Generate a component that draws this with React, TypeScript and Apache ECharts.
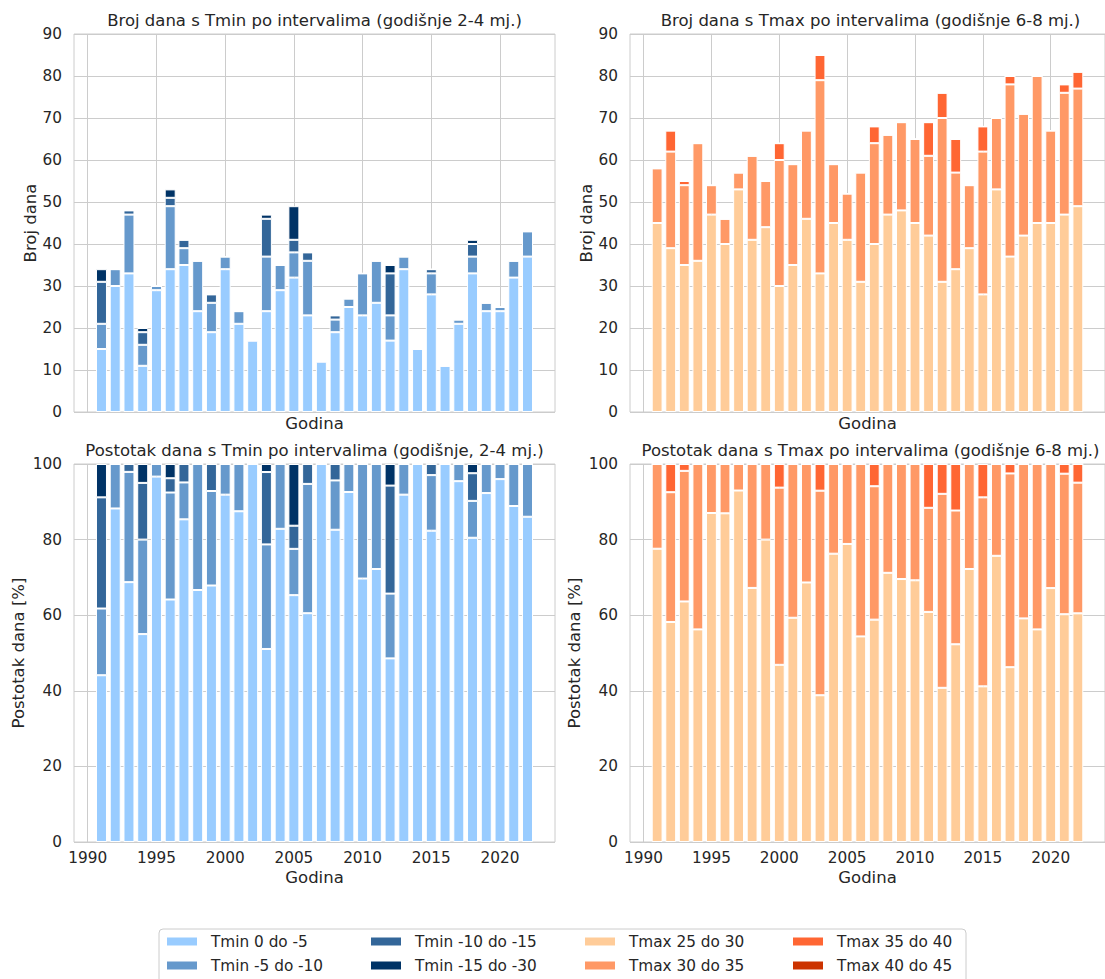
import React, { useEffect, useRef } from 'react';
import * as echarts from 'echarts';

// ---------- data ----------
const years = [
  1991, 1992, 1993, 1994, 1995, 1996, 1997, 1998, 1999, 2000, 2001, 2002, 2003, 2004, 2005, 2006,
  2007, 2008, 2009, 2010, 2011, 2012, 2013, 2014, 2015, 2016, 2017, 2018, 2019, 2020, 2021, 2022,
];
// category slots of the x axis (matplotlib margins: 1989 .. 2024)
const axisYears = [
  '1989', '1990', '1991', '1992', '1993', '1994', '1995', '1996', '1997', '1998', '1999', '2000',
  '2001', '2002', '2003', '2004', '2005', '2006', '2007', '2008', '2009', '2010', '2011', '2012',
  '2013', '2014', '2015', '2016', '2017', '2018', '2019', '2020', '2021', '2022', '2023', '2024',
];

const tminNames = ['Tmin 0 do -5', 'Tmin -5 do -10', 'Tmin -10 do -15', 'Tmin -15 do -30'];
const tmaxNames = ['Tmax 25 do 30', 'Tmax 30 do 35', 'Tmax 35 do 40', 'Tmax 40 do 45'];

const tmin0to5 = [15, 30, 33, 11, 29, 34, 35, 24, 19, 34, 21, 17, 24, 29, 32, 23, 12, 19, 25, 23, 26, 17, 34, 15, 28, 11, 21, 33, 24, 24, 32, 37];
const tmin5to10 = [6, 4, 14, 5, 1, 15, 4, 12, 7, 3, 3, 0, 13, 6, 6, 13, 0, 3, 2, 10, 10, 6, 3, 0, 5, 0, 1, 4, 2, 1, 4, 6];
const tmin10to15 = [10, 0, 1, 3, 0, 2, 2, 0, 2, 0, 0, 0, 9, 0, 3, 2, 0, 1, 0, 0, 0, 10, 0, 0, 1, 0, 0, 3, 0, 0, 0, 0];
const tmin15to30 = [3, 0, 0, 1, 0, 2, 0, 0, 0, 0, 0, 0, 1, 0, 8, 0, 0, 0, 0, 0, 0, 2, 0, 0, 0, 0, 0, 1, 0, 0, 0, 0];

const tmax25to30 = [45, 39, 35, 36, 47, 40, 53, 41, 44, 30, 35, 46, 33, 45, 41, 31, 40, 47, 48, 45, 42, 31, 34, 39, 28, 53, 37, 42, 45, 45, 47, 49];
const tmax30to35 = [13, 23, 19, 28, 7, 6, 4, 20, 11, 30, 24, 21, 46, 14, 11, 26, 24, 19, 21, 20, 19, 39, 23, 15, 34, 17, 41, 29, 35, 22, 29, 28];
const tmax35to40 = [0, 5, 1, 0, 0, 0, 0, 0, 0, 4, 0, 0, 6, 0, 0, 0, 4, 0, 0, 0, 8, 6, 8, 0, 6, 0, 2, 0, 0, 0, 2, 4];
const tmax40to45 = [0, 0, 0, 0, 0, 0, 0, 0, 0, 0, 0, 0, 0, 0, 0, 0, 0, 0, 0, 0, 0, 0, 0, 0, 0, 0, 0, 0, 0, 0, 0, 0];

const countTicksTop = [0, 10, 20, 30, 40, 50, 60, 70, 80, 90];
const pctTicks = [0, 20, 40, 60, 80, 100];

const tminColors = ['#99ccff', '#6699cc', '#336699', '#003366'];
const tmaxColors = ['#ffcc99', '#ff9966', '#ff6633', '#cc3300'];

const titles = [
  'Broj dana s Tmin po intervalima (godišnje 2-4 mj.)',
  'Broj dana s Tmax po intervalima (godišnje 6-8 mj.)',
  'Postotak dana s Tmin po intervalima (godišnje, 2-4 mj.)',
  'Postotak dana s Tmax po intervalima (godišnje 6-8 mj.)',
];

// ---------- helpers ----------
const FONT = 'DejaVu Sans';
const TXT = '#262626';
const GRIDC = '#cccccc';

function pad(values: number[]): (number | string)[] {
  return axisYears.map((y) => {
    const i = years.indexOf(Number(y));
    return i >= 0 ? values[i] : '-';
  });
}

function toPct(groups: number[][]): number[][] {
  return groups.map((g) =>
    g.map((v, i) => {
      const total = groups.reduce((s, arr) => s + arr[i], 0);
      return total ? (v * 100) / total : 0;
    })
  );
}

export default function App() {
  const ref = useRef<HTMLDivElement>(null);

  useEffect(() => {
    if (!ref.current) return;
    const chart = echarts.init(ref.current, null, { renderer: 'svg' });

    const tminGroups = [tmin0to5, tmin5to10, tmin10to15, tmin15to30];
    const tmaxGroups = [tmax25to30, tmax30to35, tmax35to40, tmax40to45];

    const panels = [
      { left: 74, top: 34, groups: tminGroups, names: tminNames, colors: tminColors, pct: false, yName: 'Broj dana' },
      { left: 630, top: 34, groups: tmaxGroups, names: tmaxNames, colors: tmaxColors, pct: false, yName: 'Broj dana' },
      { left: 74, top: 464, groups: toPct(tminGroups), names: tminNames, colors: tminColors, pct: true, yName: 'Postotak dana [%]' },
      { left: 630, top: 464, groups: toPct(tmaxGroups), names: tmaxNames, colors: tmaxColors, pct: true, yName: 'Postotak dana [%]' },
    ];
    const W = 481;
    const H = 378;

    const isFive = (_i: number, v: string) => Number(v) % 5 === 0;

    const option: any = {
      animation: false,
      backgroundColor: '#ffffff',
      textStyle: { fontFamily: FONT },
      title: panels.map((p, i) => ({
        text: titles[i],
        left: p.left + W / 2,
        top: p.top - 22,
        textAlign: 'center',
        padding: 0,
        textStyle: { fontFamily: FONT, fontSize: 16.5, fontWeight: 'normal', color: TXT },
      })),
      grid: panels.map((p) => ({
        left: p.left,
        top: p.top,
        width: W,
        height: H,
        show: true,
        borderColor: GRIDC,
        borderWidth: 1,
        backgroundColor: 'transparent',
        containLabel: false,
      })),
      xAxis: panels.map((p, i) => ({
        type: 'category',
        gridIndex: i,
        data: axisYears,
        boundaryGap: false,
        axisLine: { show: false },
        axisTick: { show: false },
        axisLabel: {
          show: p.pct,
          interval: isFive,
          fontFamily: FONT,
          fontSize: 15.3,
          color: TXT,
          margin: 8,
        },
        splitLine: { show: true, interval: isFive, lineStyle: { color: GRIDC, width: 1 } },
        name: 'Godina',
        nameLocation: 'middle',
        nameGap: p.pct ? 27 : 3,
        nameTextStyle: { fontFamily: FONT, fontSize: 16.5, color: TXT, verticalAlign: 'top' },
      })),
      yAxis: panels.map((p, i) => ({
        type: 'value',
        gridIndex: i,
        min: p.pct ? pctTicks[0] : countTicksTop[0],
        max: p.pct ? pctTicks[pctTicks.length - 1] : countTicksTop[countTicksTop.length - 1],
        interval: p.pct ? pctTicks[1] - pctTicks[0] : countTicksTop[1] - countTicksTop[0],
        axisLine: { show: false },
        axisTick: { show: false },
        axisLabel: { fontFamily: FONT, fontSize: 15.3, color: TXT, margin: 12 },
        splitLine: { show: true, lineStyle: { color: GRIDC, width: 1 } },
        name: p.yName,
        nameLocation: 'middle',
        nameRotate: 90,
        nameGap: p.pct ? 47 : 35,
        nameTextStyle: { fontFamily: FONT, fontSize: 16.5, color: TXT },
      })),
      legend: [
        [tminNames[0], tminNames[1]],
        [tminNames[2], tminNames[3]],
        [tmaxNames[0], tmaxNames[1]],
        [tmaxNames[2], tmaxNames[3]],
      ].map((col, i) => ({
        orient: 'vertical',
        left: [165, 369, 583, 791][i],
        top: 934,
        padding: 0,
        itemWidth: 32,
        itemHeight: 10,
        itemGap: 9,
        icon: 'rect',
        selectedMode: false,
        data: col,
        textStyle: { fontFamily: FONT, fontSize: 15.3, color: TXT, padding: [0, 0, 0, 8] },
      })),
      graphic: [
        {
          type: 'rect',
          z: -10,
          shape: { x: 159, y: 929, width: 807, height: 70, r: 4 },
          style: { fill: '#ffffff', stroke: GRIDC, lineWidth: 1 },
        },
      ],
      series: [] as any[],
    };

    panels.forEach((p, pi) => {
      p.groups.forEach((vals, k) => {
        option.series.push({
          type: 'bar',
          name: p.names[k],
          xAxisIndex: pi,
          yAxisIndex: pi,
          stack: 'stack' + pi,
          barWidth: '80%',
          data: pad(vals),
          itemStyle: { color: p.colors[k], borderColor: '#ffffff', borderWidth: 1 },
          emphasis: { disabled: true },
        });
      });
    });

    chart.setOption(option);
    return () => chart.dispose();
  }, []);

  return (
    <div
      ref={ref}
      style={{ position: 'absolute', left: 0, top: 0, width: 1105, height: 979, background: '#fff' }}
    />
  );
}
